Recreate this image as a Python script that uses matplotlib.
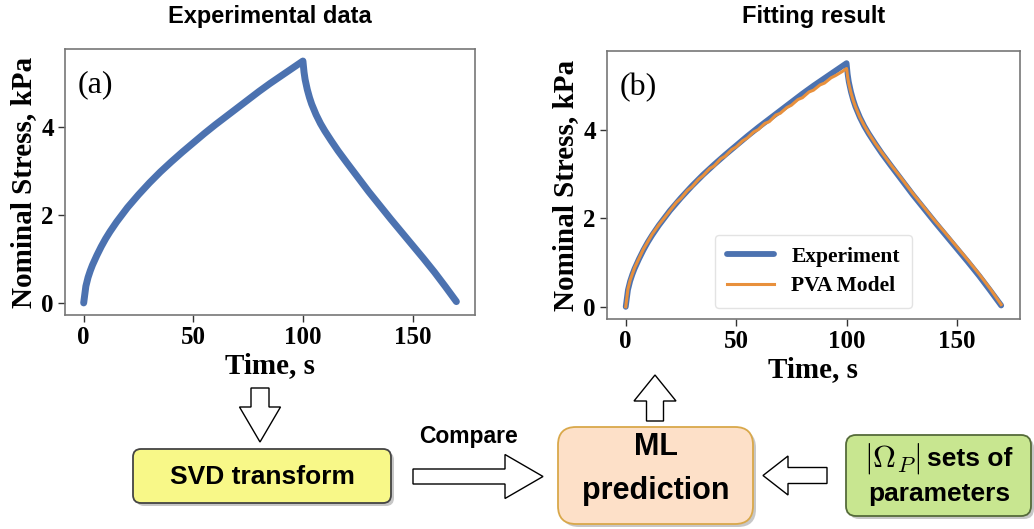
import numpy as np
import matplotlib
matplotlib.use("Agg")
import matplotlib.pyplot as plt
from matplotlib.patches import FancyBboxPatch, FancyArrow

plt.rcParams['mathtext.fontset'] = 'cm'

# --- data (time in s, stress in kPa) ---
t_exp = [0, 1, 2, 3, 4, 6, 8, 10, 12, 15, 20, 25, 30, 35, 40, 45, 50, 55, 60, 65, 70,
         75, 80, 85, 90, 95, 100,
         100.5, 101, 102, 103, 104, 106, 108, 110, 113, 116, 120, 125, 130, 135, 140,
         145, 150, 155, 160, 165, 170]
s_exp = [0, 0.38, 0.58, 0.73, 0.86, 1.08, 1.28, 1.46, 1.62, 1.84, 2.17, 2.46, 2.73, 2.98,
         3.21, 3.43, 3.64, 3.85, 4.05, 4.24, 4.43, 4.62, 4.81, 4.99, 5.16, 5.33, 5.50,
         5.25, 5.08, 4.85, 4.67, 4.52, 4.28, 4.08, 3.91, 3.68, 3.46, 3.19, 2.86, 2.53,
         2.22, 1.91, 1.61, 1.31, 1.01, 0.70, 0.37, 0.03]

t_pva = [0, 1, 2, 3, 4, 6, 8, 10, 12, 15, 18, 20, 23, 25, 28, 30, 33, 35, 38, 40, 43, 45,
         48, 50, 53, 55, 58, 60, 63, 65, 68, 70, 73, 75, 78, 80, 83, 85, 88, 90, 93, 95,
         98, 100,
         100.5, 101, 102, 103, 104, 106, 108, 110, 113, 116, 120, 125, 130, 135, 140,
         145, 150, 155, 160, 165, 170]
s_pva = [0, 0.40, 0.60, 0.74, 0.88, 1.09, 1.30, 1.47, 1.64, 1.85, 2.04, 2.17, 2.36, 2.45,
         2.63, 2.71, 2.88, 2.96, 3.12, 3.18, 3.34, 3.40, 3.55, 3.61, 3.75, 3.81, 3.95,
         4.00, 4.14, 4.18, 4.33, 4.37, 4.50, 4.55, 4.68, 4.72, 4.85, 4.89, 5.01, 5.05,
         5.17, 5.22, 5.31, 5.38,
         5.18, 5.04, 4.83, 4.66, 4.52, 4.28, 4.09, 3.92, 3.69, 3.48, 3.21, 2.89, 2.56,
         2.25, 1.94, 1.65, 1.35, 1.05, 0.74, 0.41, 0.05]

xticks = [0, 50, 100, 150]
yticks = [0, 2, 4]

blue = "#4c72b0"
orange = "#e8903c"

fig = plt.figure(figsize=(10.34, 5.29), dpi=100)

serif = "Liberation Serif"
sans = "Liberation Sans"


def style_axes(ax, label):
    ax.set_xlim(-8.5, 178.5)
    ax.set_ylim(-0.275, 5.775)
    ax.set_xticks(xticks)
    ax.set_yticks(yticks)
    for lab in ax.get_xticklabels() + ax.get_yticklabels():
        lab.set_family(serif)
        lab.set_weight("bold")
        lab.set_size(18)
    ax.tick_params(length=5, width=1, color="#333333", pad=3)
    for sp in ax.spines.values():
        sp.set_color("#777777")
        sp.set_linewidth(1.2)
    ax.set_xlabel("Time, s", family=serif, weight="bold", fontsize=21, labelpad=2)
    ax.set_ylabel("Nominal Stress, kPa", family=serif, weight="bold", fontsize=21, labelpad=3)
    ax.text(0.03, 0.865, label, transform=ax.transAxes, family=serif,
            fontsize=23, va="center", ha="left")


# panel (a)
ax1 = fig.add_axes([0.0629, 0.4045, 0.3965, 0.503])
ax1.plot(t_exp, s_exp, color=blue, lw=5, solid_capstyle="round", solid_joinstyle="round")
style_axes(ax1, "(a)")
ax1.set_title("Experimental data", family=sans, weight="bold", fontsize=17, pad=18.5)

# panel (b)
ax2 = fig.add_axes([0.587, 0.397, 0.3994, 0.5066])
ax2.plot(t_exp, s_exp, color=blue, lw=4.2, label="Experiment", solid_capstyle="round")
ax2.plot(t_pva, s_pva, color=orange, lw=2.2, label="PVA Model")
style_axes(ax2, "(b)")
ax2.set_title("Fitting result", family=sans, weight="bold", fontsize=17, pad=20)
ax2.legend(loc="lower center", bbox_to_anchor=(0.5, 0.04), borderaxespad=0,
           prop={"family": serif, "weight": "bold", "size": 15.5},
           handlelength=2.2, borderpad=0.55, labelspacing=0.45, framealpha=0.8,
           edgecolor="#dddddd")

# --- flow diagram in pixel coordinates of the figure ---
d = fig.add_axes([0, 0, 1, 1], zorder=-1)
d.set_xlim(0, 1034)
d.set_ylim(529, 0)
d.axis("off")


def box(x0, y0, x1, y1, fc, ec, rad):
    sh = FancyBboxPatch((x0 + 3, y0 + 3), x1 - x0, y1 - y0,
                        boxstyle="round,pad=0,rounding_size=%g" % rad,
                        fc="#b0b0b0", ec="none", alpha=0.7)
    d.add_patch(sh)
    b = FancyBboxPatch((x0, y0), x1 - x0, y1 - y0,
                       boxstyle="round,pad=0,rounding_size=%g" % rad,
                       fc=fc, ec=ec, lw=1.3)
    d.add_patch(b)


def arrow(x, y, dx, dy, w, hw, hl):
    a = FancyArrow(x, y, dx, dy, width=w, head_width=hw, head_length=hl,
                   length_includes_head=True, fc="white", ec="black", lw=1.0)
    d.add_patch(a)


box(133, 449, 391, 503, "#f8f888", "#444444", 8)
box(558, 427, 753, 524, "#fde0c8", "#d9a84a", 18)
box(846, 435, 1031, 516, "#c8e690", "#556b3a", 10)

d.text(262, 477, "SVD transform", family=sans, weight="bold", fontsize=19,
       ha="center", va="center")
d.text(656, 447, "ML", family=sans, weight="bold", fontsize=22,
       ha="center", va="center")
d.text(656, 491, "prediction", family=sans, weight="bold", fontsize=22,
       ha="center", va="center")
d.text(921, 459, r"$|\Omega_P|$", fontsize=23, ha="right", va="center")
d.text(927, 459, "sets of", family=sans, weight="bold", fontsize=19,
       ha="left", va="center")
d.text(939, 494, "parameters", family=sans, weight="bold", fontsize=19,
       ha="center", va="center")
d.text(469, 437, "Compare", family=sans, weight="bold", fontsize=16.5,
       ha="center", va="center")

arrow(260, 388, 0, 54, 18, 41, 35)
arrow(655, 421, 0, -46, 17, 42, 26)
arrow(413, 476.5, 130, 0, 15, 44, 38)
arrow(827, 475.5, -64, 0, 16, 39, 25)

fig.savefig("out.png", dpi=100)
